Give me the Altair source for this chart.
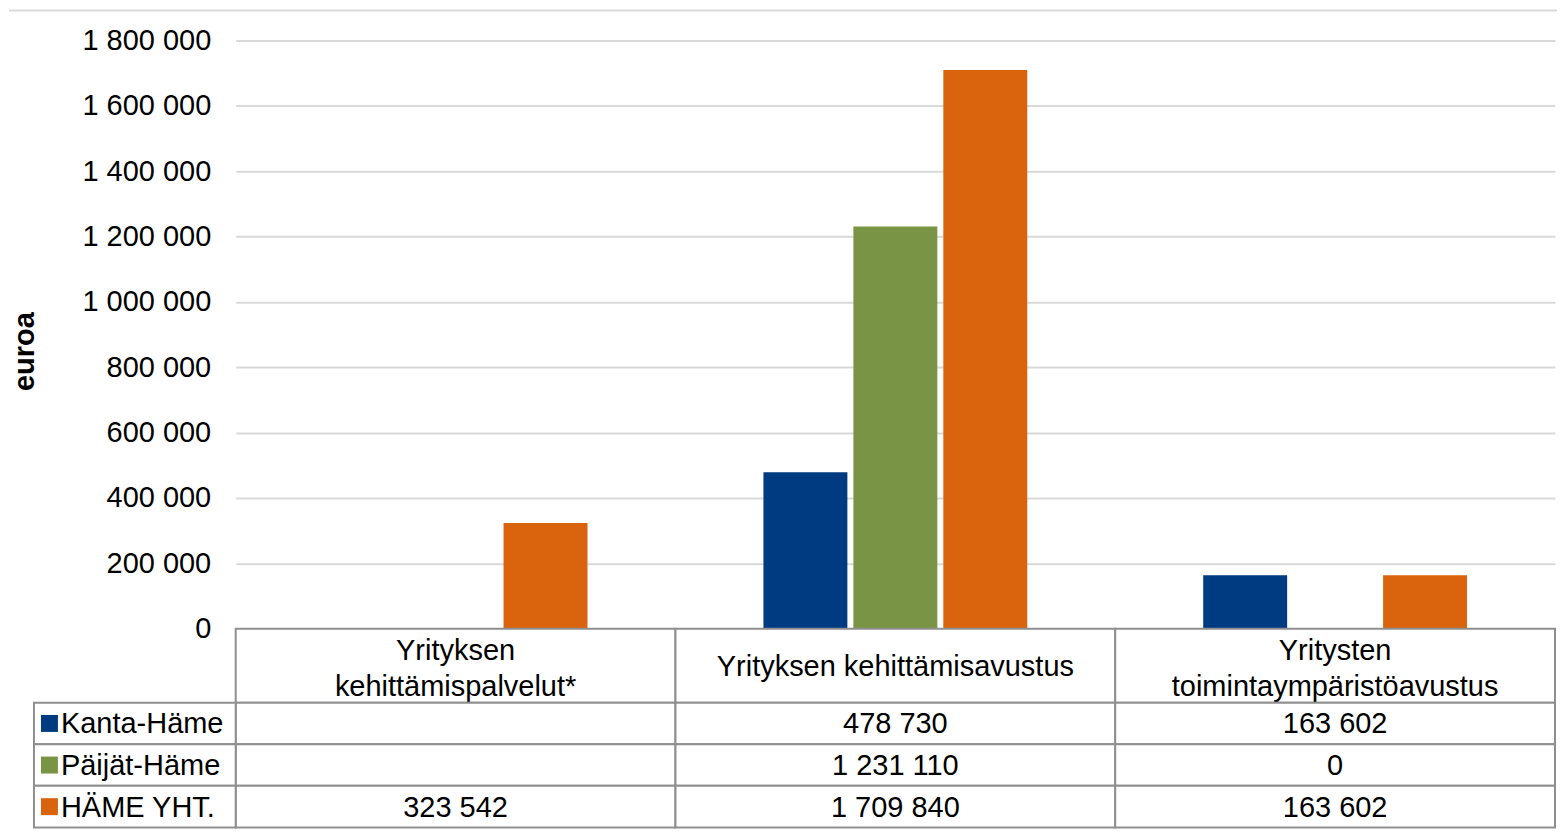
import altair as alt
import pandas as pd

categories = ["Yrityksen\nkehittämispalvelut*", "Yrityksen kehittämisavustus",
              "Yritysten\ntoimintaympäristöavustus"]
series = ["Kanta-Häme", "Päijät-Häme", "HÄME YHT."]
kanta_hame = [None, 478730, 163602]
paijat_hame = [None, 1231110, 0]
hame_yht = [323542, 1709840, 163602]
colors = ["#003a80", "#7a9446", "#d9640d"]
y_ticks = [0, 200000, 400000, 600000, 800000, 1000000, 1200000, 1400000, 1600000, 1800000]

GRAY = "#8f8f8f"
GRID = "#d9d9d9"
FS = 29
W = 1321
LH = 36

rows = []
for s, vals in zip(series, [kanta_hame, paijat_hame, hame_yht]):
    for c, v in zip(categories, vals):
        rows.append({
            "category": c,
            "series": s,
            "value": v,
            "label": "" if v is None else f"{v:,}".replace(",", " "),
        })
df = pd.DataFrame(rows)
bar_df = df[df["value"].notna()].copy()

color_scale = alt.Scale(domain=series, range=colors)
x_scale = alt.Scale(domain=categories, paddingInner=0, paddingOuter=0)

# ---- bar chart ----
bars = alt.Chart(bar_df).mark_bar().encode(
    x=alt.X("category:N", sort=categories, scale=x_scale, axis=None),
    xOffset=alt.XOffset("series:N", sort=series,
                        scale=alt.Scale(domain=series, paddingInner=0.0667, paddingOuter=0.978)),
    y=alt.Y("value:Q",
            scale=alt.Scale(domain=[0, 1800000], nice=False),
            axis=alt.Axis(values=y_ticks,
                          labelExpr="replace(format(datum.value, ','), regexp(',', 'g'), ' ')",
                          labelFontSize=FS, labelColor="#000000", labelPadding=25,
                          ticks=False, domain=False,
                          gridColor=GRID, gridWidth=2,
                          title="euroa", titleFontSize=FS, titleFontWeight="bold",
                          titleColor="#000000", titleAngle=270, titleX=-202, titleY=311,
                          titleBaseline="alphabetic", titleAlign="center")),
    color=alt.Color("series:N", scale=color_scale, legend=None),
)

top_line = alt.Chart(pd.DataFrame({"k": [0]})).mark_rule(color=GRID, strokeWidth=2).encode(
    x=alt.value(-227), x2=alt.value(W + 2), y=alt.value(-30)
)

top = alt.layer(top_line, bars).properties(width=W, height=589)

# ---- header row of the data table ----
hdr_df = pd.DataFrame({
    "category": categories,
    "r": ["h"] * len(categories),
    "nlines": [c.count("\n") + 1 for c in categories],
})
hdr_base = alt.Chart(hdr_df).encode(
    x=alt.X("category:N", sort=categories, scale=x_scale, axis=None),
    y=alt.Y("r:N", axis=None, scale=alt.Scale(paddingInner=0, paddingOuter=0)),
)
hdr_rect = hdr_base.mark_rect(fill="white", stroke=GRAY, strokeWidth=2)
hdr_text1 = hdr_base.transform_filter("datum.nlines == 1").mark_text(
    fontSize=FS, lineBreak="\n", lineHeight=LH, color="#000000", baseline="middle", dy=1
).encode(text="category:N")
hdr_text2 = hdr_base.transform_filter("datum.nlines == 2").mark_text(
    fontSize=FS, lineBreak="\n", lineHeight=LH, color="#000000", baseline="middle", dy=-15
).encode(text="category:N")
header = alt.layer(hdr_rect, hdr_text1, hdr_text2).properties(width=W, height=74)

# ---- body rows of the data table ----
y_rows = alt.Y("series:N", sort=series, axis=None,
               scale=alt.Scale(domain=series, paddingInner=0, paddingOuter=0))
body_base = alt.Chart(df).encode(
    x=alt.X("category:N", sort=categories, scale=x_scale, axis=None),
    y=y_rows,
)
cells = body_base.mark_rect(fill="white", stroke=GRAY, strokeWidth=2)
values = body_base.mark_text(fontSize=FS, color="#000000", baseline="middle", dy=1).encode(
    text="label:N")

leg_df = pd.DataFrame({"series": series})
leg_base = alt.Chart(leg_df).encode(y=y_rows)
leg_cells = leg_base.mark_rect(fill="white", stroke=GRAY, strokeWidth=2).encode(
    x=alt.value(-202), x2=alt.value(0))
leg_labels = leg_base.mark_text(fontSize=FS, color="#000000", align="left",
                                baseline="middle", dy=1).encode(x=alt.value(-175), text="series:N")
leg_keys = leg_base.mark_square(size=289, opacity=1).encode(
    x=alt.value(-186.5), color=alt.Color("series:N", scale=color_scale, legend=None))

body = alt.layer(cells, values, leg_cells, leg_labels, leg_keys).properties(width=W, height=125)

chart = alt.vconcat(top, header, body, spacing=0, bounds="flush").properties(
    padding={"left": 0, "top": 1, "right": 0, "bottom": 0}
).configure(font="Liberation Sans").configure_view(stroke=None)

chart.save("out.html", embed_options={"renderer": "svg", "actions": False})
